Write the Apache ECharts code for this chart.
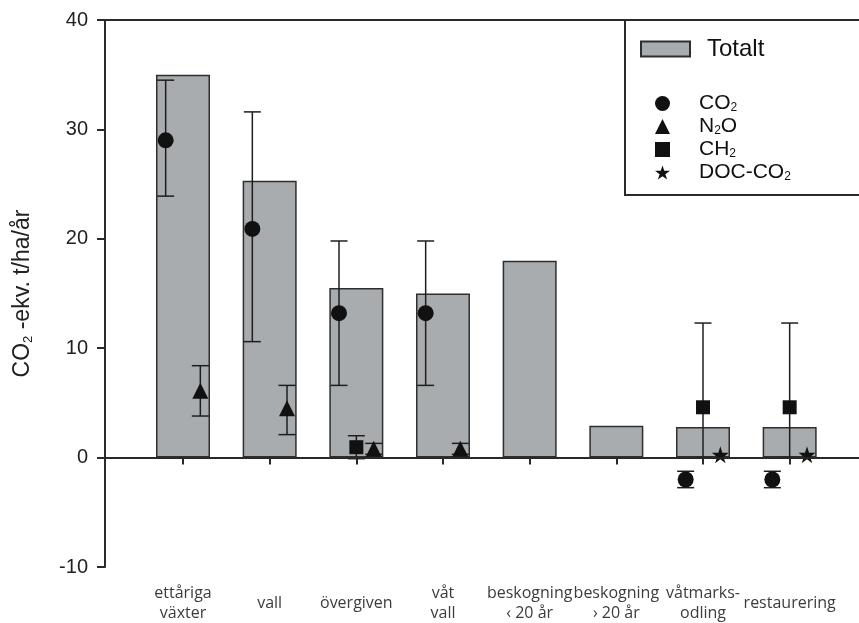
<!DOCTYPE html>
<html>
<head>
<meta charset="utf-8">
<script src="https://cdn.jsdelivr.net/npm/echarts@6/dist/echarts.min.js"></script>
<style>
  html, body { margin: 0; padding: 0; background: #fff; overflow: hidden; }
  #chart { width: 859px; height: 623px; }
</style>
</head>
<body>
<div id="chart"></div>
<script>
// Categories along the x axis (positions 1..8)
const categories = ['ettåriga\nväxter', 'vall', 'övergiven', 'våt\nvall',
  'beskogning\n‹ 20 år', 'beskogning\n› 20 år', 'våtmarks-\nodling', 'restaurering'];

// Total emissions, CO2-ekv. t/ha/år
const totalt = [35, 25.3, 15.5, 15, 18, 2.9, 2.8, 2.8];

// CO2 with error range
const co2     = [29, 20.9, 13.2, 13.2, null, null, -2.0, -2.0];
const co2Low  = [23.9, 10.6, 6.6, 6.6, null, null, -2.75, -2.75];
const co2High = [34.5, 31.6, 19.8, 19.8, null, null, -1.25, -1.25];

// N2O with error range
const n2o     = [6.1, 4.5, 0.8, 0.8, null, null, null, null];
const n2oLow  = [3.8, 2.1, 0.3, 0.3, null, null, null, null];
const n2oHigh = [8.4, 6.6, 1.3, 1.3, null, null, null, null];

// CH4 (labelled CH2) with error range
const ch      = [null, null, 0.95, null, null, null, 4.6, 4.6];
const chLow   = [null, null, -0.1, null, null, null, 0, 0];
const chHigh  = [null, null, 2.0, null, null, null, 12.3, 12.3];

// DOC-CO2
const doc     = [null, null, null, null, null, null, 0.25, 0.25];

const yTicks = [-10, 0, 10, 20, 30, 40];

// horizontal offsets of each gas relative to the category centre
const OFF_CO2 = -0.2, OFF_CH = 0, OFF_N2O = 0.2, OFF_DOC = 0.2;

function points(vals, off) {
  const out = [];
  vals.forEach((v, i) => { if (v != null) out.push([i + 1 + off, v]); });
  return out;
}
function ranges(vals, lo, hi, off) {
  const out = [];
  vals.forEach((v, i) => { if (v != null && lo[i] != null) out.push([i + 1 + off, lo[i], hi[i]]); });
  return out;
}

const INK = '#1e1e1e';
const CAP = 8.5;
function renderErr(params, api) {
  const x = api.value(0);
  const a = api.coord([x, api.value(1)]);
  const b = api.coord([x, api.value(2)]);
  const st = { stroke: INK, lineWidth: 1.5 };
  return {
    type: 'group',
    children: [
      { type: 'line', shape: { x1: a[0], y1: a[1], x2: b[0], y2: b[1] }, style: st },
      { type: 'line', shape: { x1: a[0] - CAP, y1: a[1], x2: a[0] + CAP, y2: a[1] }, style: st },
      { type: 'line', shape: { x1: b[0] - CAP, y1: b[1], x2: b[0] + CAP, y2: b[1] }, style: st }
    ]
  };
}
function errSeries(name, data) {
  return {
    name: name, type: 'custom', renderItem: renderErr, data: data,
    encode: { x: 0, y: [1, 2] }, z: 3, silent: true
  };
}

const STAR = 'path://M50,0 L61.8,35.1 L100,35.1 L69.1,57.4 L80.9,92.7 L50,70.9 L19.1,92.7 L30.9,57.4 L0,35.1 L38.2,35.1 Z';

const legendNames = { 'CO2': 'CO{s|2}', 'N2O': 'N{s|2}O', 'CH2': 'CH{s|2}', 'DOC-CO2': 'DOC-CO{s|2}' };

const chart = echarts.init(document.getElementById('chart'), null, { renderer: 'canvas' });

chart.setOption({
  animation: false,
  backgroundColor: '#fff',
  grid: { left: 105, right: 0, top: 20, bottom: 56, show: false },
  xAxis: {
    type: 'value', min: 0.1, max: 8.8,
    axisLine: { show: true, lineStyle: { color: '#2a2a2a', width: 2 } },
    splitLine: { show: false },
    axisTick: { show: true, customValues: [1, 2, 3, 4, 5, 6, 7, 8], length: 7, lineStyle: { color: '#2a2a2a', width: 2 } },
    axisLabel: {
      customValues: [1, 2, 3, 4, 5, 6, 7, 8],
      formatter: v => categories[Math.round(v) - 1] || '',
      verticalAlign: 'middle', margin: 36,
      fontFamily: 'Open Sans', fontSize: 16, lineHeight: 20, color: '#3c3c3c'
    }
  },
  yAxis: {
    type: 'value', min: yTicks[0], max: yTicks[yTicks.length - 1], interval: 10,
    axisLine: { show: true, lineStyle: { color: '#2a2a2a', width: 2 } },
    splitLine: { show: false },
    axisTick: { show: true, length: 8, lineStyle: { color: '#2a2a2a', width: 2 } },
    axisLabel: { margin: 17, fontFamily: 'Liberation Sans', fontSize: 20, color: '#222' },
    name: 'CO{s|2} -ekv. t/ha/år',
    nameLocation: 'middle', nameRotate: 90, nameGap: 70,
    nameTextStyle: {
      fontFamily: 'Liberation Sans', fontSize: 23, color: '#222',
      rich: { s: { fontFamily: 'Liberation Sans', fontSize: 13, color: '#222', padding: [12, 0, 0, 0] } }
    }
  },
  legend: [
    {
      data: ['Totalt'], left: 635, top: 32, icon: 'rect',
      itemWidth: 49, itemHeight: 15, itemGap: 0,
      textStyle: { fontFamily: 'Liberation Sans', fontSize: 24, color: '#111', padding: [0, 0, 0, 12] },
      selectedMode: false
    },
    {
      data: ['CO2', 'N2O', 'CH2', 'DOC-CO2'], orient: 'vertical', left: 650, top: 88,
      itemWidth: 15, itemHeight: 15, itemGap: 2,
      formatter: n => legendNames[n],
      textStyle: {
        fontFamily: 'Liberation Sans', fontSize: 21, color: '#111', padding: [0, 0, 0, 24],
        rich: { s: { fontFamily: 'Liberation Sans', fontSize: 12, color: '#111', padding: [9, 0, 0, 0] } }
      },
      selectedMode: false
    }
  ],
  graphic: [
    {
      type: 'rect', shape: { x: 625, y: 20, width: 260, height: 175 },
      style: { fill: 'none', stroke: '#2a2a2a', lineWidth: 2 }, z: 100, silent: true
    }
  ],
  series: [
    {
      name: 'Totalt', type: 'bar', barWidth: 54, z: 2,
      data: points(totalt, 0),
      itemStyle: { color: '#a8acaf', borderColor: '#2e2e2e', borderWidth: 1.5 },
      markLine: {
        silent: true, symbol: 'none', label: { show: false },
        lineStyle: { color: '#2a2a2a', width: 1.5, type: 'solid' },
        data: [{ yAxis: 0 }, { yAxis: 40, lineStyle: { width: 2 } }]
      }
    },
    errSeries('CO2 fel', ranges(co2, co2Low, co2High, OFF_CO2)),
    errSeries('N2O fel', ranges(n2o, n2oLow, n2oHigh, OFF_N2O)),
    errSeries('CH2 fel', ranges(ch, chLow, chHigh, OFF_CH)),
    {
      name: 'CO2', type: 'scatter', symbol: 'circle', symbolSize: 16, z: 4,
      data: points(co2, OFF_CO2), itemStyle: { color: '#111', opacity: 1 }
    },
    {
      name: 'N2O', type: 'scatter', symbol: 'triangle', symbolSize: 16, z: 4,
      data: points(n2o, OFF_N2O), itemStyle: { color: '#111', opacity: 1 }
    },
    {
      name: 'CH2', type: 'scatter', symbol: 'rect', symbolSize: 14, z: 4,
      data: points(ch, OFF_CH), itemStyle: { color: '#111', opacity: 1 }
    },
    {
      name: 'DOC-CO2', type: 'scatter', symbol: STAR, symbolSize: 17, z: 4,
      data: points(doc, OFF_DOC), itemStyle: { color: '#111', opacity: 1 }
    }
  ]
});
</script>
</body>
</html>
